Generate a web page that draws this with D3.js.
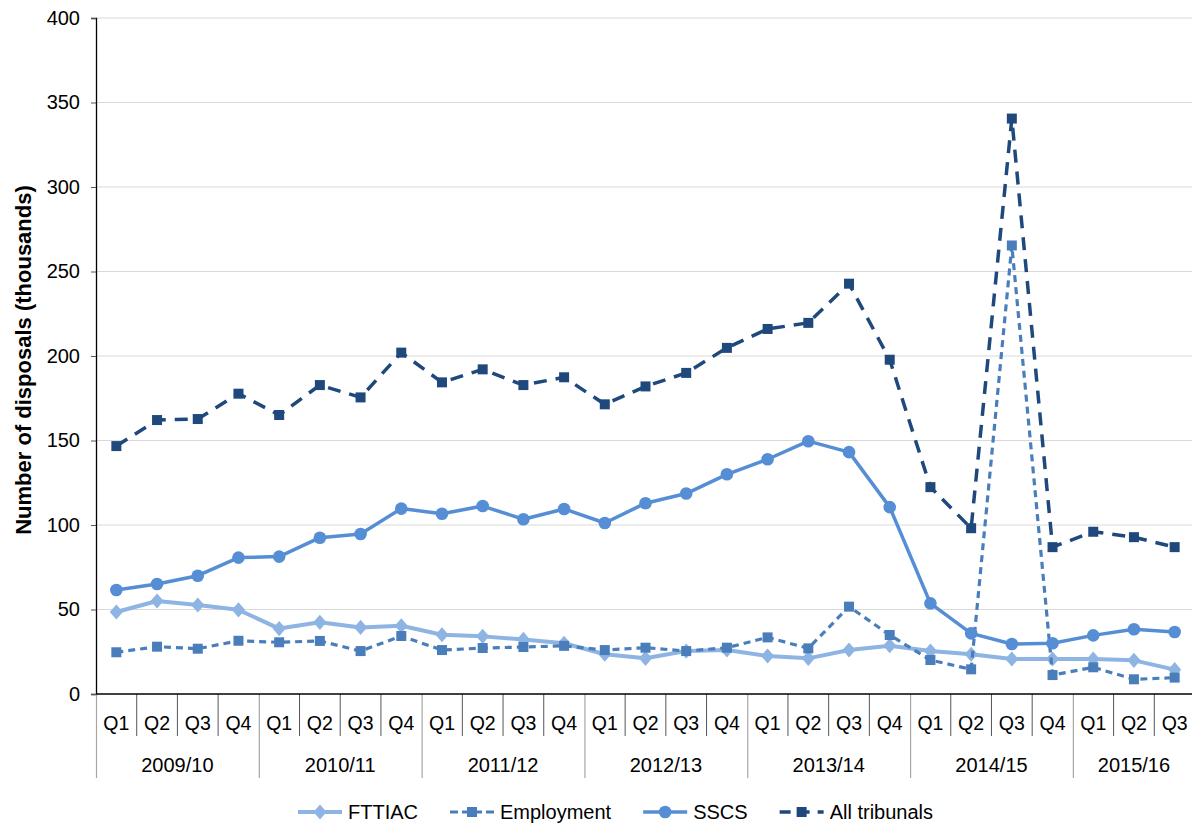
<!DOCTYPE html>
<html>
<head>
<meta charset="utf-8">
<script src="https://cdn.jsdelivr.net/npm/d3@7"></script>
<style>
  body { margin: 0; background: #fff; }
  text { font-family: "Liberation Sans", Arial, sans-serif; fill: #000; }
</style>
</head>
<body>
<div class="container"></div>
<script>
// tick labels + categories
var years = ["2009/10", "2010/11", "2011/12", "2012/13", "2013/14", "2014/15", "2015/16"];
var quarters = ["Q1","Q2","Q3","Q4","Q1","Q2","Q3","Q4","Q1","Q2","Q3","Q4","Q1","Q2","Q3","Q4",
                "Q1","Q2","Q3","Q4","Q1","Q2","Q3","Q4","Q1","Q2","Q3"];
var yTicks = [0, 50, 100, 150, 200, 250, 300, 350, 400];

// series values (thousands)
var fttiac = [48.5, 55, 52.7, 49.8, 38.7, 42.4, 39.4, 40.4, 35.1, 34.1, 32.3, 30, 23.5, 21.1, 25.4, 26,
              22.5, 21.1, 26, 28.6, 25.4, 23.5, 20.7, 20.7, 20.7, 19.9, 14.4];
var employment = [24.7, 28, 26.8, 31.5, 30.6, 31.4, 25.4, 34.3, 26, 27.2, 27.8, 28.5, 26, 27.4, 25.4, 27.4,
                  33.5, 27, 51.7, 34.9, 20.1, 14.6, 265.4, 11.2, 15.8, 8.7, 9.7];
var sscs = [61.5, 65.1, 70, 80.7, 81.3, 92.5, 94.7, 109.7, 106.7, 111.2, 103.4, 109.5, 101.2, 112.9, 118.6, 130,
            138.9, 149.6, 143.1, 110.6, 53.6, 35.9, 29.6, 30, 34.7, 38.3, 36.7];
var allTribunals = [146.7, 162.1, 162.7, 177.7, 165.1, 182.8, 175.5, 202, 184.4, 192.1, 182.8, 187.4, 171.4, 182, 190, 204.8,
                    216, 219.6, 242.8, 197.8, 122.4, 98.1, 340.5, 86.9, 96, 92.8, 86.9];

var width = 1192;
var height = 825;
var margin = {top: 18, right: -3, bottom: 131, left: 96};
var xAxisY = height - margin.bottom;

var series = [
  {name: "FTTIAC", values: fttiac, color: "#8db4e2", dash: null, width: 4, marker: "diamond"},
  {name: "Employment", values: employment, color: "#4a7ebb", dash: "7,5", width: 3.2, marker: "square"},
  {name: "SSCS", values: sscs, color: "#558ed5", dash: null, width: 3.5, marker: "circle"},
  {name: "All tribunals", values: allTribunals, color: "#1f497d", dash: "13,9", width: 3.5, marker: "square"}
];

var idx = quarters.map((q, i) => i);
var xScale = d3.scaleBand().domain(idx).range([margin.left, width - margin.right]);
var yScale = d3.scaleLinear().domain([0, 400]).range([xAxisY, margin.top]);

var svg = d3.select(".container").append("svg")
  .attr("width", width).attr("height", height);

//-----------------------------------------
// grid
svg.append("g").selectAll("line")
  .data(yTicks.filter(d => d > 0))
  .enter().append("line")
  .attr("x1", margin.left).attr("x2", width)
  .attr("y1", d => yScale(d)).attr("y2", d => yScale(d))
  .attr("stroke", "#d9d9d9").attr("stroke-width", 1);

//-----------------------------------------
// y axis
var yAxis = d3.axisLeft(yScale).tickValues(yTicks).tickSize(5).tickPadding(11);
var gy = svg.append("g").attr("transform", "translate(" + margin.left + ",0)").call(yAxis);
gy.select(".domain").attr("stroke", "#000").attr("stroke-width", 1.3);
gy.selectAll(".tick line").attr("stroke", "#555");
gy.selectAll(".tick text").style("font-size", "20px").style("font-family", "Liberation Sans, Arial, sans-serif");

svg.append("text")
  .attr("transform", "translate(23," + ((margin.top + xAxisY) / 2 + 4) + ") rotate(-90)")
  .attr("text-anchor", "middle")
  .attr("dominant-baseline", "central")
  .style("font-size", "22px").style("font-weight", "bold")
  .text("Number of disposals (thousands)");

//-----------------------------------------
// x axis (two levels)
var bw = xScale.bandwidth();
svg.append("g").selectAll("line")
  .data(idx.filter(i => i % 4 != 0))
  .enter().append("line")
  .attr("x1", i => xScale(i)).attr("x2", i => xScale(i))
  .attr("y1", xAxisY).attr("y2", xAxisY + 42)
  .attr("stroke", "#555").attr("stroke-width", 1);
svg.append("g").selectAll("line")
  .data(years.map((y, k) => k * 4))
  .enter().append("line")
  .attr("x1", i => xScale(i) + 0.5).attr("x2", i => xScale(i) + 0.5)
  .attr("y1", xAxisY).attr("y2", xAxisY + 84)
  .attr("stroke", "#a6a6a6").attr("stroke-width", 1.2);
svg.append("line")
  .attr("x1", margin.left).attr("x2", width)
  .attr("y1", xAxisY).attr("y2", xAxisY)
  .attr("stroke", "#000").attr("stroke-width", 1.3);

svg.append("g").selectAll("text")
  .data(quarters)
  .enter().append("text")
  .attr("x", (d, i) => xScale(i) + bw / 2)
  .attr("y", xAxisY + 29)
  .attr("text-anchor", "middle").attr("dominant-baseline", "central")
  .style("font-size", "19.5px")
  .text(d => d);
svg.append("g").selectAll("text")
  .data(years)
  .enter().append("text")
  .attr("x", (d, k) => {
    var last = Math.min(k * 4 + 3, quarters.length - 1);
    return (xScale(k * 4) + xScale(last) + bw) / 2;
  })
  .attr("y", xAxisY + 71)
  .attr("text-anchor", "middle").attr("dominant-baseline", "central")
  .style("font-size", "20px")
  .text(d => d);

//-----------------------------------------
// lines + markers
function draw_marker(g, type, color, x, y) {
  if (type == "diamond") {
    g.append("path").attr("d", d3.symbol().type(d3.symbolDiamond2).size(110)())
      .attr("transform", "translate(" + x + "," + y + ") scale(1,1.15)").attr("fill", color);
  } else if (type == "square") {
    g.append("rect").attr("x", x - 5).attr("y", y - 5).attr("width", 10).attr("height", 10).attr("fill", color);
  } else {
    g.append("circle").attr("cx", x).attr("cy", y).attr("r", 6.3).attr("fill", color);
  }
}

var line = d3.line().x((d, i) => xScale(i) + bw / 2).y(d => yScale(d));

series.forEach(function(s) {
  var g = svg.append("g");
  g.append("path")
    .attr("d", line(s.values))
    .attr("fill", "none")
    .attr("stroke", s.color)
    .attr("stroke-width", s.width)
    .attr("stroke-dasharray", s.dash)
    .attr("stroke-linejoin", "round");
  s.values.forEach(function(v, i) {
    draw_marker(g, s.marker, s.color, xScale(i) + bw / 2, yScale(v));
  });
});

//-----------------------------------------
// legend
var legendY = 812;
var lx = 298;
series.forEach(function(s) {
  var g = svg.append("g");
  g.append("line")
    .attr("x1", lx).attr("x2", lx + 44)
    .attr("y1", legendY).attr("y2", legendY)
    .attr("stroke", s.color).attr("stroke-width", s.width)
    .attr("stroke-dasharray", s.dash ? (s.name == "Employment" ? "8,4" : "11,8") : null);
  draw_marker(g, s.marker, s.color, lx + 22, legendY);
  var t = g.append("text")
    .attr("x", lx + 50).attr("y", legendY)
    .attr("dominant-baseline", "central")
    .style("font-size", "20px")
    .text(s.name);
  lx = lx + 50 + t.node().getComputedTextLength() + 32;
});
</script>
</body>
</html>
